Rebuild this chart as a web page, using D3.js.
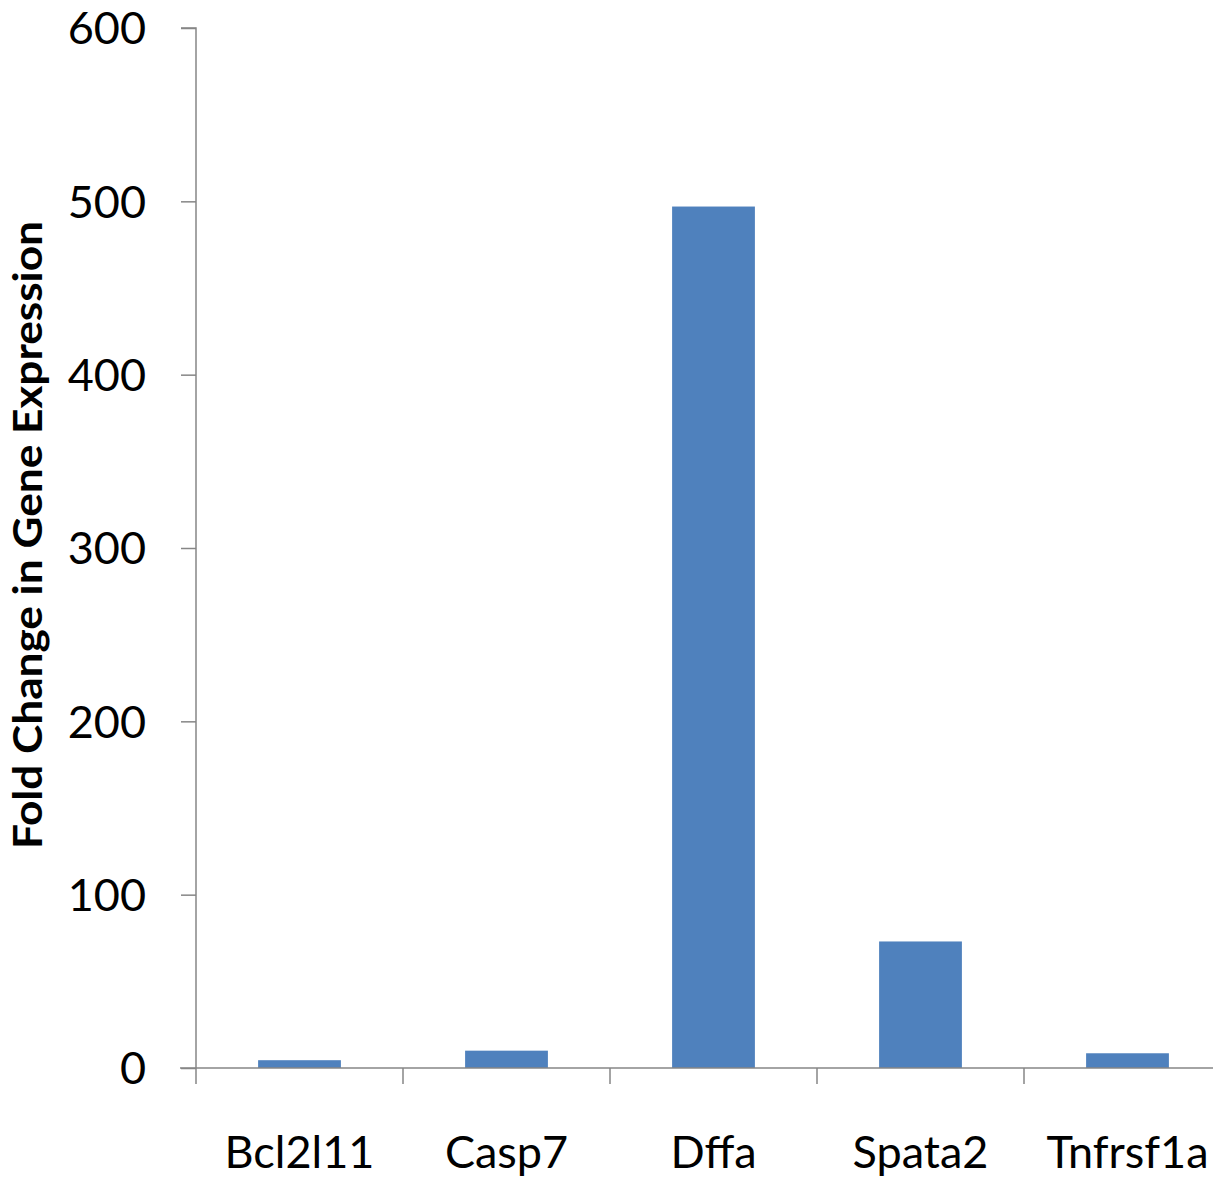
<!DOCTYPE html>
<html><head><meta charset="utf-8">
<script src="https://cdn.jsdelivr.net/npm/d3@7"></script>
<style>body{margin:0;background:#fff}svg{display:block}</style>
</head><body>
<svg id="c" width="1225" height="1183"></svg>
<script>
const categories = ["Bcl2l11", "Casp7", "Dffa", "Spata2", "Tnfrsf1a"];
const values = [4.5, 10, 497, 73, 8.5];
const yTicks = [0, 100, 200, 300, 400, 500, 600];
const yTitle = "Fold Change in Gene Expression";

const svg = d3.select("#c");
const x0 = 196, y0 = 1068, yTop = 28, step = 207;
const x = d3.scaleBand().domain(categories).range([x0, x0 + step * categories.length]).paddingInner(0.6).paddingOuter(0.3);
const y = d3.scaleLinear().domain([0, 600]).range([y0, yTop]);
const axisColor = "#868686";
const font = "Lato, 'Open Sans', sans-serif";

// bars
svg.append("g").selectAll("rect").data(values).join("rect")
  .attr("x", (d, i) => x(categories[i]))
  .attr("width", x.bandwidth())
  .attr("y", d => y(d))
  .attr("height", d => y0 - y(d))
  .attr("fill", "#4F81BD");

// y axis
const ya = svg.append("g").attr("transform", `translate(${x0},0)`)
  .call(d3.axisLeft(y).tickValues(yTicks).tickSize(15).tickPadding(35).tickFormat(d3.format("d")));
ya.select(".domain").attr("stroke", axisColor).attr("stroke-width", 1.5).attr("d", `M-15,${yTop}H0V${y0}`);
ya.selectAll(".tick line").attr("stroke", axisColor).attr("stroke-width", 1.5);
ya.selectAll(".tick text").attr("font-family", font).attr("font-size", 45).attr("fill", "#000").attr("dy", "0.35em");

// x axis
const xa = svg.append("g").attr("transform", `translate(0,${y0})`)
  .call(d3.axisBottom(x).tickSize(0).tickPadding(68));
xa.select(".domain").attr("stroke", axisColor).attr("stroke-width", 1.5).attr("d", `M${x0 - 16},0H1213`);
xa.selectAll(".tick text").attr("font-family", font).attr("font-size", 45).attr("fill", "#000");
// category boundary ticks
const bounds = d3.range(categories.length).map(i => x0 + i * step);
xa.append("g").selectAll("line").data(bounds).join("line")
  .attr("x1", d => d).attr("x2", d => d).attr("y1", 0).attr("y2", 16)
  .attr("stroke", axisColor).attr("stroke-width", 1.5);

// y title
svg.append("text")
  .attr("transform", `translate(42,535) rotate(-90)`)
  .attr("text-anchor", "middle")
  .attr("font-family", font).attr("font-weight", "bold").attr("font-size", 40)
  .attr("textLength", 628).attr("lengthAdjust", "spacingAndGlyphs")
  .text(yTitle);
</script>
</body></html>
